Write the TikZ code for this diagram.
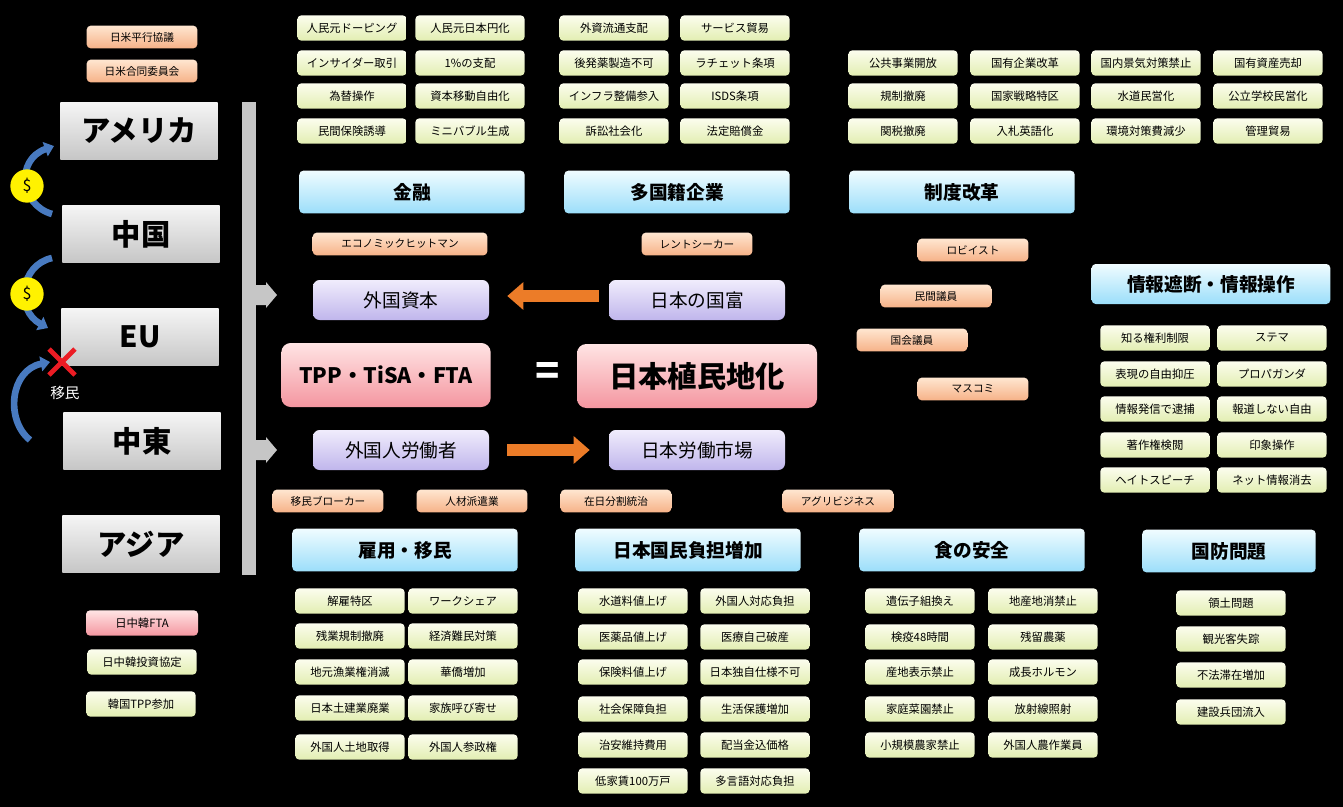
\documentclass[tikz,border=0pt]{standalone}
\usepackage{fontspec}
\setmainfont{Noto Sans CJK JP}
\usetikzlibrary{arrows.meta,shapes.misc,calc}
\definecolor{grnT}{RGB}{252,253,238}
\definecolor{grnB}{RGB}{226,238,178}
\definecolor{bluT}{RGB}{240,252,255}
\definecolor{bluB}{RGB}{155,222,250}
\definecolor{orgT}{RGB}{255,230,208}
\definecolor{orgB}{RGB}{246,178,136}
\definecolor{purT}{RGB}{240,236,252}
\definecolor{purB}{RGB}{192,182,236}
\definecolor{pnkT}{RGB}{255,228,228}
\definecolor{pnkB}{RGB}{244,150,160}
\definecolor{gryT}{RGB}{245,245,245}
\definecolor{gryB}{RGB}{198,198,198}
\definecolor{flowblue}{RGB}{72,122,192}
\definecolor{flowred}{RGB}{236,28,36}
\definecolor{arrorange}{RGB}{236,124,40}
\tikzset{
  base/.style={rounded corners=3pt, inner sep=0pt, text=black},
  item/.style={base, top color=grnT, bottom color=grnB, minimum width=82pt, minimum height=19pt, font=\fontsize{8.5}{9}\selectfont},
  head/.style={base, top color=bluT, bottom color=bluB, minimum width=169pt, minimum height=32pt, font=\fontsize{14}{15}\selectfont\bfseries},
  actor/.style={base, top color=orgT, bottom color=orgB, minimum width=83pt, minimum height=17pt, font=\fontsize{8}{9}\selectfont},
  flowbox/.style={base, rounded corners=5pt, top color=purT, bottom color=purB, minimum width=132pt, minimum height=30pt, font=\fontsize{14}{15}\selectfont},
  keybox/.style={base, rounded corners=7pt, top color=pnkT, bottom color=pnkB, minimum height=48pt, font=\bfseries},
  nation/.style={base, rounded corners=0pt, top color=gryT, bottom color=gryB, minimum width=118pt, minimum height=43pt, font=\fontsize{22}{24}\selectfont\bfseries},
  curl/.style={flowblue, line width=5pt, -{Triangle[length=7pt,width=11pt]}},
  fat/.style={arrorange, line width=9pt, -{Triangle[length=12pt,width=20pt]}},
  dollar/.style={circle, fill=yellow, inner sep=0pt, minimum size=25pt, font=\fontsize{12}{12}\selectfont}
}
\begin{document}
\begin{tikzpicture}[x=0.75pt, y=-0.75pt]
\fill[black] (0,0) rectangle (1343,807);

% left column
\node[actor] (usa1) at (142,37) {日米平行協議};
\node[actor] (usa2) at (142,71) {日米合同委員会};
\node[nation] (usa) at (139,131) {アメリカ};
\node[nation] (chn) at (141,234) {中国};
\node[nation] (eu) at (140,337) {EU};
\node[nation] (mde) at (142,441) {中東};
\node[nation] (asia) at (141,544) {アジア};
\fill[gryB] (242,102) rectangle (256,575);
\fill[gryB] (256,285) -- (266,285) -- (266,282) -- (277,295) -- (266,308) -- (266,305) -- (256,305) -- cycle;
\fill[gryB] (256,440) -- (266,440) -- (266,437) -- (277,450) -- (266,463) -- (266,460) -- (256,460) -- cycle;

\coordinate (c1a) at (52,214);
\coordinate (c1b) at (54,146);
\coordinate (c2a) at (52,258);
\coordinate (c2b) at (48,328);
\coordinate (c3a) at (30,440);
\coordinate (c3b) at (50,362);
\draw[curl] (c1a) .. controls (20,205) and (15,160) .. (c1b);
\draw[curl] (c2a) .. controls (20,265) and (15,310) .. (c2b);
\draw[curl] (c3a) .. controls (5,420) and (10,370) .. (c3b);
\node[dollar] (d1) at (27,186) {\$};
\node[dollar] (d2) at (27,294) {\$};
\node[draw=flowred, cross out, line width=3.5pt, minimum size=16pt] (xx) at (62,362) {};
\node[text=white, font=\fontsize{11}{12}\selectfont] (imin) at (65,393) {移民};

\node[base, top color=pnkT, bottom color=pnkB, minimum width=84pt, minimum height=19pt, font=\fontsize{8.5}{9}\selectfont] (fta) at (142,623) {日中韓FTA};
\node[item] (inv) at (142,662) {日中韓投資協定};
\node[item] (kor) at (141,704) {韓国TPP参加};

% top grids
\foreach \nm/\x/\y/\t in {a1/352/28/人民元ドーピング, a2/470/28/人民元日本円化, a3/352/63/インサイダー取引, a4/470/63/1\%の支配,
  a5/352/96/為替操作, a6/470/96/資本移動自由化, a7/352/131/民間保険誘導, a8/470/131/ミニバブル生成,
  b1/614/28/外資流通支配, b2/735/28/サービス貿易, b3/614/63/後発薬製造不可, b4/735/63/ラチェット条項,
  b5/614/96/インフラ整備参入, b6/735/96/ISDS条項, b7/614/131/訴訟社会化, b8/735/131/法定賠償金,
  c1/903/63/公共事業開放, c2/1025/63/国有企業改革, c3/1146/63/国内景気対策禁止, c4/1268/63/国有資産売却,
  c5/903/96/規制撤廃, c6/1025/96/国家戦略特区, c7/1146/96/水道民営化, c8/1268/96/公立学校民営化,
  c9/903/131/関税撤廃, c10/1025/131/入札英語化, c11/1146/131/環境対策費減少, c12/1268/131/管理貿易}
  \node[item] (\nm) at (\x,\y) {\t};

\node[head] (fin) at (412,192) {金融};
\node[head] (mnc) at (677,192) {多国籍企業};
\node[head] (ref) at (962,192) {制度改革};
\node[head, minimum width=179pt, minimum height=30pt] (info) at (1211,284) {情報遮断・情報操作};

% centre
\node[actor, minimum width=131pt] (ehm) at (400,244) {エコノミックヒットマン};
\node[actor] (rent) at (697,244) {レントシーカー};
\node[actor] (lob) at (973,250) {ロビイスト};
\node[actor] (civ) at (936,296) {民間議員};
\node[actor] (diet) at (912,340) {国会議員};
\node[actor] (mass) at (973,389) {マスコミ};
\node[flowbox] (fcap) at (401,300) {外国資本};
\node[flowbox] (jw) at (697,300) {日本の国富};
\node[flowbox] (flab) at (401,450) {外国人労働者};
\node[flowbox] (jlab) at (697,450) {日本労働市場};
\draw[fat] ($(jw.west)+(-10,-4)$) -- ($(fcap.east)+(18,-4)$);
\draw[fat] ($(flab.east)+(18,0)$) -- ($(jlab.west)+(-19,0)$);
\node[keybox, minimum width=157pt, font=\fontsize{16}{18}\selectfont\bfseries] (tpp) at (386,375) {TPP・TiSA・FTA};
\node[text=white, font=\fontsize{30}{30}\selectfont\bfseries] (eq) at (548,374) {=};
\node[keybox, minimum width=180pt, font=\fontsize{22}{24}\selectfont\bfseries] (col) at (697,376) {日本植民地化};
\node[actor] (brk) at (328,501) {移民ブローカー};
\node[actor] (disp) at (472,501) {人材派遣業};
\node[actor] (zai) at (616,501) {在日分割統治};
\node[actor] (agri) at (838,501) {アグリビジネス};

\foreach \nm/\x/\y/\t in {i1/1155/338/知る権利制限, i2/1272/338/ステマ, i3/1155/374/表現の自由抑圧, i4/1272/374/プロパガンダ,
  i5/1155/409/情報発信で逮捕, i6/1272/409/報道しない自由, i7/1155/445/著作権検閲, i8/1272/445/印象操作,
  i9/1155/480/ヘイトスピーチ, i10/1272/480/ネット情報消去}
  \node[item] (\nm) at (\x,\y) {\t};

% bottom
\node[head] (emp) at (405,550) {雇用・移民};
\node[head] (bur) at (688,550) {日本国民負担増加};
\node[head] (food) at (972,550) {食の安全};
\node[head, minimum width=130pt] (def) at (1229,551) {国防問題};

\foreach \nm/\x/\y/\t in {e1/350/601/解雇特区, e2/463/601/ワークシェア, e3/350/636/残業規制撤廃, e4/463/636/経済難民対策,
  e5/350/672/地元漁業権消滅, e6/463/672/華僑増加, e7/350/708/日本土建業廃業, e8/463/708/家族呼び寄せ,
  e9/350/747/外国人土地取得, e10/463/747/外国人参政権,
  f1/633/601/水道料値上げ, f2/755/601/外国人対応負担, f3/633/637/医薬品値上げ, f4/755/637/医療自己破産,
  f5/633/672/保険料値上げ, f6/755/672/日本独自仕様不可, f7/633/709/社会保障負担, f8/755/709/生活保護増加,
  f9/633/745/治安維持費用, f10/755/745/配当金込価格, f11/633/781/低家賃100万戸, f12/755/781/多言語対応負担,
  g1/920/601/遺伝子組換え, g2/1043/601/地産地消禁止, g3/920/637/検疫48時間, g4/1043/637/残留農薬,
  g5/920/672/産地表示禁止, g6/1043/672/成長ホルモン, g7/920/709/家庭菜園禁止, g8/1043/709/放射線照射,
  g9/920/745/小規模農家禁止, g10/1043/745/外国人農作業員,
  h1/1231/603/領土問題, h2/1231/639/観光客失踪, h3/1231/675/不法滞在増加, h4/1231/712/建設兵団流入}
  \node[item] (\nm) at (\x,\y) {\t};
\end{tikzpicture}
\end{document}
